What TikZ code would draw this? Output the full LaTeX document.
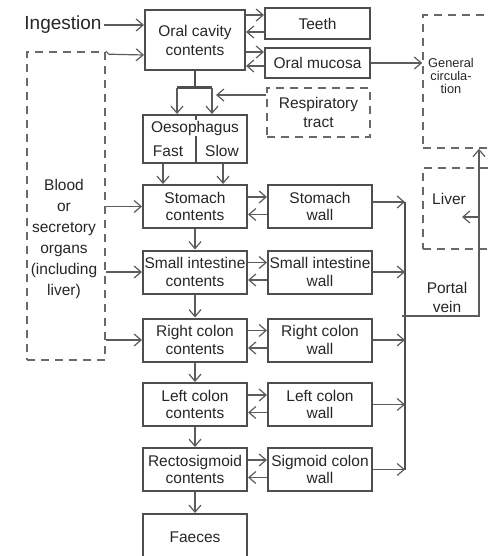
\documentclass[tikz,border=0pt]{standalone}
\usepackage{fontspec}
\setmainfont{Liberation Sans}
\usetikzlibrary{arrows.meta,positioning,calc}
\definecolor{linegray}{RGB}{78,78,78}
\definecolor{arrowgray}{RGB}{92,92,92}
\definecolor{dashgray}{RGB}{105,105,105}
\definecolor{textgray}{RGB}{38,38,38}
\newcommand{\boxfont}{\fontsize{7.75}{8.8}\selectfont}
\newcommand{\circfont}{\fontsize{6.4}{6.6}\selectfont}

\begin{document}
\begin{tikzpicture}[x=0.5pt,y=-0.5pt,
  every node/.style={text=textgray},
  box/.style={draw=linegray,line width=1pt,align=center,inner xsep=0.5pt,inner ysep=1pt,
    minimum width=52pt,minimum height=21.5pt,font=\boxfont},
  dbox/.style={draw=dashgray,line width=0.8pt,dash pattern=on 4pt off 3pt,inner sep=0pt},
  lbl/.style={align=center,inner sep=0pt,font=\boxfont},
  arr/.style={draw=arrowgray,line width=0.6pt,-{Straight Barb[length=3.5pt,width=6pt]}},
  link/.style={draw=linegray,line width=0.8pt}]
\useasboundingbox (0,0) rectangle (489,556);
\clip (0,0) rectangle (489,556);

\node[font=\fontsize{9.5}{11}\selectfont,inner sep=1pt] (ingest) at (63,25) {Ingestion};
\node[box,minimum width=50pt,minimum height=30pt,font=\fontsize{7.75}{9.5}\selectfont] (oral) at (195,40) {Oral cavity\\contents};
\node[box,minimum width=52.5pt,minimum height=15.5pt] (teeth) at (317.5,23.5) {Teeth};
\node[box,minimum width=52.5pt,minimum height=15pt] (mucosa) at (317.5,63) {Oral mucosa};
\node[dbox,minimum width=51.5pt,minimum height=24.5pt,align=center,font=\fontsize{7.75}{9.5}\selectfont] (resp) at (318.5,112.5) {Respiratory\\tract};

\node[box,minimum height=24pt] (oes) at (195,139) {};
\draw[link,line width=1pt] ([xshift=0.5pt]oes.north) -- ([xshift=0.5pt]oes.south);
\node[lbl,fill=white,inner sep=0.6pt] (oesname) at (195,128) {Oesophagus};
\node[lbl] (fast) at (168,151) {Fast};
\node[lbl] (slow) at (222,151) {Slow};

\node[box] (stom) at (195,206.5) {Stomach\\contents};
\node[box] (si) at (195,272) {Small intestine\\contents};
\node[box] (rc) at (195,340) {Right colon\\contents};
\node[box] (lc) at (195,404.5) {Left colon\\contents};
\node[box] (rs) at (195,469.5) {Rectosigmoid\\contents};
\node[box,minimum height=23pt] (faeces) at (195,537) {Faeces};

\node[box,right=9.5pt of stom] (stomw) {Stomach\\wall};
\node[box,right=9.5pt of si] (siw) {Small intestine\\wall};
\node[box,right=9.5pt of rc] (rcw) {Right colon\\wall};
\node[box,right=9.5pt of lc] (lcw) {Left colon\\wall};
\node[box,right=9.5pt of rs] (sw) {Sigmoid colon\\wall};

\node[dbox,minimum width=39pt,minimum height=154pt] (blood) at (66,206) {};
\node[lbl,font=\fontsize{7.75}{10.5}\selectfont] (bloodtxt) at (64,238.5) {Blood\\or\\secretory\\organs\\(including\\liver)};
\node[dbox,minimum width=48.5pt,minimum height=66.5pt] (gencirc) at (471.5,81.5) {};
\node[lbl,font=\circfont] (gctxt) at (451,76) {General\\circula-\\tion};
\node[dbox,minimum width=48.5pt,minimum height=40.5pt] (liver) at (471.5,208.5) {};
\node[lbl] (livertxt) at (449,199) {Liver};
\node[lbl,font=\fontsize{7.75}{9.5}\selectfont] (portaltxt) at (447,297) {Portal\\vein};

% mouth
\draw[arr] (ingest.east) -- (ingest.east -| oral.west);
\draw[arr] (blood.north east) -- ++(3,3) -- ($(oral.west)+(0,15)$);
\draw[arr] ([yshift=12.5pt]oral.east) -- ([yshift=4.25pt]teeth.west);
\draw[arr] ([yshift=-4.25pt]teeth.west) -- ([yshift=4pt]oral.east);
\draw[arr] ([yshift=-6pt]oral.east) -- ([yshift=5.5pt]mucosa.west);
\draw[arr] ([yshift=-1.5pt]mucosa.west) -- ([yshift=-13pt]oral.east);
\draw[arr] (mucosa.east) -- (mucosa.east -| gencirc.west);

% split into oesophagus
\coordinate (split) at ($(oral.south)+(0,17)$);
\coordinate (splitl) at ($(split)+(-18,0)$);
\coordinate (splitr) at ($(split)+(17,0)$);
\coordinate (respin) at ($(splitr)+(4,7)$);
\draw[link] (oral.south) -- (split);
\draw[link,line width=1.5pt] (splitl) -- (splitr);
\draw[arr] (splitl) -- (splitl |- oes.north);
\draw[arr] (splitr) -- (splitr |- oes.north);
\draw[arr] (resp.west |- respin) -- (respin);
\draw[arr] ([xshift=-16pt]oes.south) -- ([xshift=-16pt]stom.north);
\draw[arr] ([xshift=14pt]oes.south) -- ([xshift=14pt]stom.north);

% gut
\foreach \a/\b in {stom/si,si/rc,rc/lc,lc/rs,rs/faeces}
  \draw[arr] (\a) -- (\b);
\foreach \c/\w in {stom/stomw,si/siw,rc/rcw,lc/lcw,rs/sw}{
  \draw[arr] ([yshift=4.75pt]\c.east) -- ([yshift=4.75pt]\w.west);
  \draw[arr] ([yshift=-4pt]\w.west) -- ([yshift=-4pt]\c.east);
}
\foreach \c in {stom,si,rc}
  \draw[arr] (\c.west -| blood.east) -- (\c.west);

% portal vein
\coordinate (veintop) at ($(stomw.east)+(32,-4.5)$);
\coordinate (pv) at (402,316);
\coordinate (pvup) at (479,316);
\coordinate (livin) at ($(liver.center)+(-9.5,8.5)$);
\draw[link] (veintop) -- (veintop |- sw.east);
\draw[arr] ([yshift=2.25pt]stomw.east) -- (veintop);
\foreach \w in {siw,rcw,lcw,sw}
  \draw[arr] (\w.east) -- (\w.east -| veintop);
\draw[arr] (pv) -- (pvup) -- (pvup |- gencirc.south);
\draw[arr] (pvup |- livin) -- (livin);
\end{tikzpicture}
\end{document}
